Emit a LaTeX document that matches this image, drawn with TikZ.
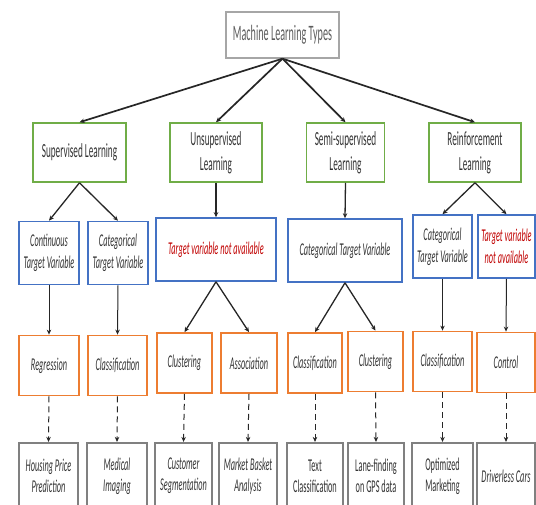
\documentclass[tikz,border=0pt]{standalone}
\usepackage{fontspec}
\setmainfont{Carlito}[FakeStretch=0.46]
\usetikzlibrary{arrows.meta}
\definecolor{Ink}{HTML}{262626}
\definecolor{Txt}{HTML}{333333}
\definecolor{RootLine}{HTML}{A6A6A6}
\definecolor{TypeLine}{HTML}{70AD47}
\definecolor{VarLine}{HTML}{4472C4}
\definecolor{TaskLine}{HTML}{ED7D31}
\definecolor{AppLine}{HTML}{808080}
\definecolor{NoTarget}{HTML}{C00000}

\begin{document}
\begin{tikzpicture}[x=1pt,y=-1pt,>={Stealth[length=5pt,width=4.5pt]},
  mlbox/.style={draw,rectangle,inner sep=1pt,align=center,text=Txt},
  rootbox/.style={mlbox,draw=RootLine,line width=1.3pt,minimum width=113pt,minimum height=46pt,text=Txt!80,font=\fontsize{22}{26}\selectfont},
  typebox/.style={mlbox,draw=TypeLine,line width=1.5pt,minimum height=59pt,font=\fontsize{20}{25}\selectfont},
  varbox/.style={mlbox,draw=VarLine,line width=1.6pt,minimum height=63pt,font=\itshape\fontsize{18}{22}\selectfont},
  taskbox/.style={mlbox,draw=TaskLine,line width=1.8pt,minimum height=60pt,font=\itshape\fontsize{18}{21}\selectfont},
  appbox/.style={mlbox,draw=AppLine,line width=2.2pt,minimum height=66pt,font=\fontsize{18}{21}\selectfont},
  appslant/.style={appbox,font=\itshape\fontsize{18}{21}\selectfont},
  rootlink/.style={->,Ink,line width=1.7pt},
  link/.style={->,Ink,line width=1.3pt},
  steplink/.style={->,Ink,line width=1pt},
  dashlink/.style={->,Ink,line width=1pt,dash pattern=on 6pt off 4pt}]
\useasboundingbox (0,0) rectangle (536,504);
\clip (0,0) rectangle (536,504);
% root and learning types
\node[rootbox] (root) at (282.5,35) {Machine Learning Types};
\node[typebox,minimum width=93pt] (sup) at (79.5,152.5) {Supervised Learning};
\node[typebox,minimum width=92pt] (unsup) at (216,152.5) {Unsupervised\\Learning};
\node[typebox,minimum width=78pt] (semi) at (345.5,152.5) {Semi-supervised\\Learning};
\node[typebox,minimum width=92pt] (reinf) at (475,152.5) {Reinforcement\\Learning};
% target variables
\node[varbox,minimum width=60pt] (cont) at (49,253) {Continuous\\Target Variable};
\node[varbox,minimum width=60pt] (catsup) at (118,253) {Categorical\\Target Variable};
\node[varbox,minimum width=120pt,text=NoTarget] (nounsup) at (216,249.5) {Target variable not available};
\node[varbox,minimum width=114pt] (catsemi) at (345,250.5) {Categorical Target Variable};
\node[varbox,minimum width=59pt] (catreinf) at (442.5,246.5) {Categorical\\Target Variable};
\node[varbox,minimum width=57pt,text=NoTarget] (noreinf) at (506.5,246.5) {Target variable\\not available};
% tasks
\node[taskbox,minimum width=60pt] (regr) at (49,365.5) {Regression};
\node[taskbox,minimum width=59pt] (clssup) at (117.5,365.5) {Classification};
\node[taskbox,minimum width=55pt] (clust) at (184.5,363) {Clustering};
\node[taskbox,minimum width=56pt] (assoc) at (249,363) {Association};
\node[taskbox,minimum width=54pt] (clssemi) at (315,363) {Classification};
\node[taskbox,minimum width=55pt] (clustsemi) at (375.5,361.5) {Clustering};
\node[taskbox,minimum width=59pt] (clsreinf) at (442.5,361.5) {Classification};
\node[taskbox,minimum width=58pt] (ctrl) at (506,362.5) {Control};
% applications
\node[appslant,minimum width=59pt] (house) at (48.5,476) {Housing Price\\Prediction};
\node[appslant,minimum width=60pt] (medic) at (117,476) {Medical\\Imaging};
\node[appslant,minimum width=57pt] (custom) at (183.5,476) {Customer\\Segmentation};
\node[appslant,minimum width=58pt] (basket) at (248,476) {Market Basket\\Analysis};
\node[appbox,minimum width=56pt] (textcls) at (315,476) {Text\\Classification};
\node[appbox,minimum width=56pt] (lane) at (376,476) {Lane-finding\\on GPS data};
\node[appbox,minimum width=61pt] (market) at (442.5,476) {Optimized\\Marketing};
\node[appslant,minimum width=58pt] (cars) at (506,476) {Driverless Cars};
% connectors
\draw[rootlink] (root.south) -- (sup.north);
\draw[rootlink] (root.south) -- (unsup.north);
\draw[rootlink] (root.south) -- (semi.north);
\draw[rootlink] (root.south) -- (reinf.north);
\draw[link] (sup.south) -- (cont.north);
\draw[link] (sup.south) -- (catsup.north);
\draw[link] (unsup.south) -- (nounsup.north);
\draw[link] (semi.south) -- (catsemi.north);
\draw[link] (reinf.south) -- (catreinf.north);
\draw[link] (reinf.south) -- (noreinf.north);
\draw[steplink] (cont.south) -- (regr.north);
\draw[steplink] (catsup.south) -- (clssup.north);
\draw[link] (nounsup.south) -- (clust.north);
\draw[link] (nounsup.south) -- (assoc.north);
\draw[link] (catsemi.south) -- (clssemi.north);
\draw[link] (catsemi.south) -- (clustsemi.north);
\draw[steplink] (catreinf.south) -- (clsreinf.north);
\draw[steplink] (noreinf.south) -- (ctrl.north);
\draw[dashlink] (regr.south) -- (house.north);
\draw[dashlink] (clssup.south) -- (medic.north);
\draw[dashlink] (clust.south) -- (custom.north);
\draw[dashlink] (assoc.south) -- (basket.north);
\draw[dashlink] (clssemi.south) -- (textcls.north);
\draw[dashlink] (clustsemi.south) -- (lane.north);
\draw[dashlink] (clsreinf.south) -- (market.north);
\draw[dashlink] (ctrl.south) -- (cars.north);
\end{tikzpicture}
\end{document}
